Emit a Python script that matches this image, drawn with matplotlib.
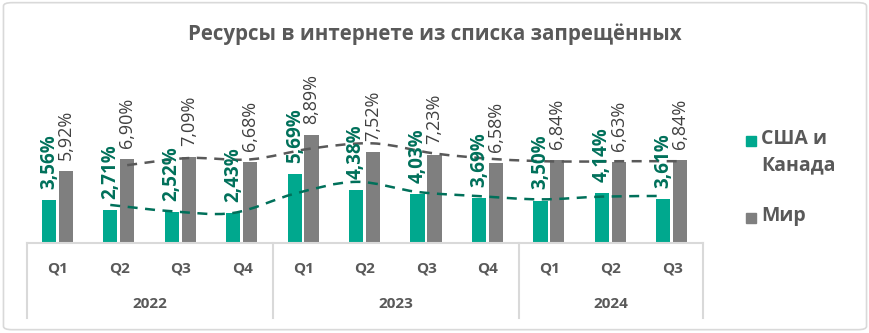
import numpy as np
import matplotlib
matplotlib.use("Agg")
import matplotlib.pyplot as plt
from matplotlib.path import Path
from matplotlib.patches import PathPatch, Rectangle, FancyBboxPatch

plt.rcParams['font.family'] = ['Open Sans', 'DejaVu Sans']

# data
quarters = ['Q1', 'Q2', 'Q3', 'Q4', 'Q1', 'Q2', 'Q3', 'Q4', 'Q1', 'Q2', 'Q3']
years = ['2022', '2023', '2024']
year_sizes = [4, 4, 3]
usa_canada = [3.56, 2.71, 2.52, 2.43, 5.69, 4.38, 4.03, 3.69, 3.50, 4.14, 3.61]
world = [5.92, 6.90, 7.09, 6.68, 8.89, 7.52, 7.23, 6.58, 6.84, 6.63, 6.84]
series_names = ['США и\nКанада', 'Мир']
title = 'Ресурсы в интернете из списка запрещённых'

TEAL = '#00A88E'
TEAL_DARK = '#00705A'
GRAY = '#7F7F7F'
GRAY_DARK = '#595959'
TEXT = '#595959'


def smooth_path(xs, ys):
    """Catmull-Rom through points, as a bezier path (like Excel smoothed line)"""
    pts = np.column_stack([xs, ys])
    verts = [pts[0]]
    codes = [Path.MOVETO]
    for i in range(len(pts) - 1):
        p0 = pts[i - 1] if i > 0 else pts[i]
        p1 = pts[i]
        p2 = pts[i + 1]
        p3 = pts[i + 2] if i + 2 < len(pts) else pts[i + 1]
        c1 = p1 + (p2 - p0) / 6.0
        c2 = p2 - (p3 - p1) / 6.0
        verts += [c1, c2, p2]
        codes += [Path.CURVE4] * 3
    return Path(verts, codes)


fig = plt.figure(figsize=(8.7, 3.33), dpi=100)
fig.patches.append(FancyBboxPatch((0.004, 0.01), 0.992, 0.982, boxstyle='round,pad=0,rounding_size=0.01',
                                  transform=fig.transFigure, fill=False, edgecolor='#D9D9D9', lw=1.2))

ax = fig.add_axes([27 / 870, 1 - 243 / 333, 676 / 870, 170 / 333])
ax.set_xlim(-0.5, len(quarters) - 0.5)
ax.set_ylim(0, 14)

x = np.arange(len(quarters))
w = 0.23
off_t, off_g = -0.145, 0.13
ax.bar(x + off_t, usa_canada, w, color=TEAL, zorder=2)
ax.bar(x + off_g, world, w, color=GRAY, zorder=2)

# data labels
for xi, v in zip(x, usa_canada):
    ax.annotate(f'{v:.2f}%'.replace('.', ','), (xi + off_t, v), xytext=(0, 8), textcoords='offset points',
                rotation=90, ha='center', va='bottom', fontsize=13.5, fontweight='bold', color=TEAL_DARK, zorder=4)
for xi, v in zip(x, world):
    ax.annotate(f'{v:.2f}%'.replace('.', ','), (xi + off_g, v), xytext=(0, 8), textcoords='offset points',
                rotation=90, ha='center', va='bottom', fontsize=13, color='#404040', zorder=4)

# moving average trendlines (period 2)
for vals, off, col in [(usa_canada, off_t, TEAL_DARK), (world, off_g, GRAY_DARK)]:
    v = np.array(vals)
    ma = (v[1:] + v[:-1]) / 2
    ax.add_patch(PathPatch(smooth_path(x[1:] + off, ma), fill=False, edgecolor=col,
                           lw=1.8, linestyle=(0, (4, 3)), zorder=3))

# category axis
for s in ax.spines.values():
    s.set_visible(False)
ax.set_xticks([])
ax.set_yticks([])
trans = ax.get_xaxis_transform()
ax.plot([-0.5, len(quarters) - 0.5], [0, 0], color='#D9D9D9', lw=1.5, transform=trans, clip_on=False)
for xi, q in zip(x, quarters):
    ax.text(xi, -0.15, q, transform=trans, ha='center', va='center', fontsize=11,
            fontweight='bold', color=TEXT)
start = -0.5
bounds = [start]
for yr, n in zip(years, year_sizes):
    ax.text(start + n / 2, -0.36, yr, transform=trans, ha='center', va='center', fontsize=11,
            fontweight='bold', color=TEXT)
    start += n
    bounds.append(start)
for b in bounds:
    ax.plot([b, b], [0, -0.44], color='#D9D9D9', lw=1.5, transform=trans, clip_on=False)

# title
fig.text(435 / 870, 1 - 34 / 333, title, ha='center', va='center', fontsize=14.8, fontweight='bold', color=TEXT)

# legend
for (lbl, col, yc) in [(series_names[0], TEAL, 141), (series_names[1], GRAY, 218)]:
    fig.patches.append(Rectangle((746 / 870, 1 - (yc + 5) / 333), 10 / 870, 10 / 333,
                                 transform=fig.transFigure, color=col))
    fig.text(761 / 870, 1 - (yc - 12) / 333, lbl, ha='left', va='top', fontsize=14,
             fontweight='bold', color=TEXT, linespacing=1.4)

fig.savefig('out.png', dpi=100)
